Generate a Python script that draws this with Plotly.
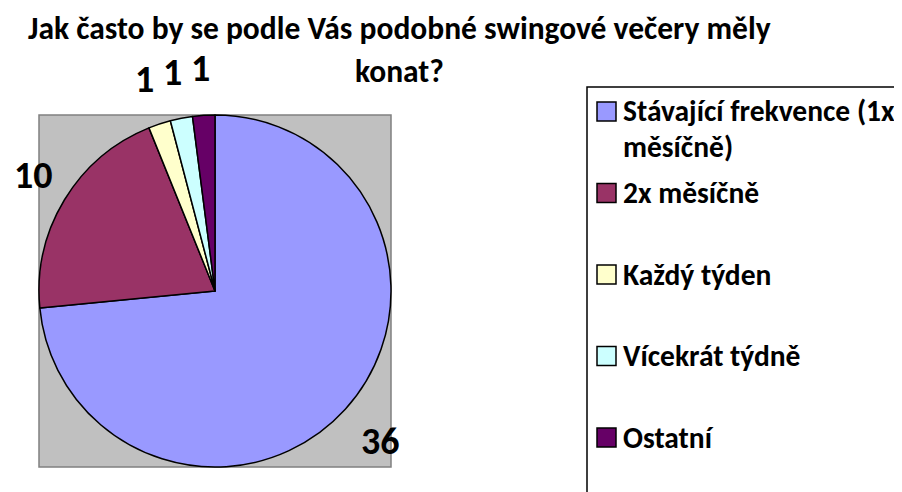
import math
import plotly.graph_objects as go

# ---- data ----
labels = ["Stávající frekvence (1x měsíčně)", "2x měsíčně", "Každý týden", "Vícekrát týdně", "Ostatní"]
legend_lines = [["Stávající frekvence (1x", "měsíčně)"], ["2x měsíčně"], ["Každý týden"], ["Vícekrát týdně"], ["Ostatní"]]
values = [36, 10, 1, 1, 1]
colors = ["#9999FF", "#993366", "#FFFFCC", "#CCFFFF", "#660066"]
title_lines = ["Jak často by se podle Vás podobné swingové večery měly", "konat?"]

# the page body adds an 8px margin; the figure fills the rest of the 902x492 window
OFF = 8
W, H = 902 - OFF, 492 - OFF
FONT = "Calibri, Carlito, Lato, sans-serif"


def px(x):  # screen pixel -> paper
    return (x - OFF) / W


def py(y):
    return 1 - (y - OFF) / H


# plot area (screen pixels)
PL, PT, PR, PB = 39, 115, 391, 467
cx, cy = (PL + PR) / 2, (PT + PB) / 2
R = (PR - PL) / 2

fig = go.Figure()
fig.add_trace(go.Pie(
    labels=labels, values=values, sort=False, direction="clockwise", rotation=0,
    marker=dict(colors=colors, line=dict(color="black", width=1.5)),
    textinfo="none", hoverinfo="label+value", showlegend=False,
    domain=dict(x=[px(PL), px(PR)], y=[py(PB), py(PT)]),
))

shapes = [dict(type="rect", xref="paper", yref="paper", x0=px(PL), x1=px(PR), y0=py(PB), y1=py(PT),
               fillcolor="#C0C0C0", line=dict(color="#808080", width=1.5), layer="below")]
annotations = []

# title
for t, yy in zip(title_lines, [28, 71]):
    annotations.append(dict(text=t, x=px(399), y=py(yy), xref="paper", yref="paper",
                            xanchor="center", yanchor="middle", showarrow=False, borderpad=0,
                            font=dict(family=FONT, size=31.5, weight="bold", color="black")))

# data labels outside the pie along each slice's mid-angle (kept inside the chart)
LBL_SIZE = 38
total = sum(values)
cum = 0
for v in values:
    mid = (cum + v / 2) / total * 2 * math.pi
    cum += v
    d = R * 1.27
    lx = cx + d * math.sin(mid)
    ly = cy - d * math.cos(mid)
    half = len(str(v)) * 0.29 * LBL_SIZE + 3
    lx = max(lx, OFF + half)
    annotations.append(dict(text=str(v), x=px(lx), y=py(ly), xref="paper", yref="paper",
                            xanchor="center", yanchor="middle", showarrow=False,
                            font=dict(family=FONT, size=LBL_SIZE, weight="bold", color="black")))

# legend box
LEG_SIZE = 29.5
shapes.append(dict(type="rect", xref="paper", yref="paper", x0=px(587), x1=px(915), y0=py(515), y1=py(87),
                   fillcolor="white", line=dict(color="black", width=1.5)))
y0, step, lh = 111.5, 81.5, 35
for i, (lines, c) in enumerate(zip(legend_lines, colors)):
    yc = y0 + i * step
    shapes.append(dict(type="rect", xref="paper", yref="paper", x0=px(597), x1=px(616),
                       y0=py(yc + 9.5), y1=py(yc - 9.5), fillcolor=c, line=dict(color="black", width=1.5)))
    for j, t in enumerate(lines):
        annotations.append(dict(text=t, x=px(621), y=py(yc + j * lh), xref="paper", yref="paper",
                                xanchor="left", yanchor="middle", align="left", showarrow=False,
                                font=dict(family=FONT, size=LEG_SIZE, weight="bold", color="black")))

fig.update_layout(
    width=W, height=H, margin=dict(l=0, r=0, t=0, b=0),
    paper_bgcolor="white", plot_bgcolor="white",
    shapes=shapes, annotations=annotations,
    font=dict(family=FONT, color="black"),
)
fig.write_html("out.html")
